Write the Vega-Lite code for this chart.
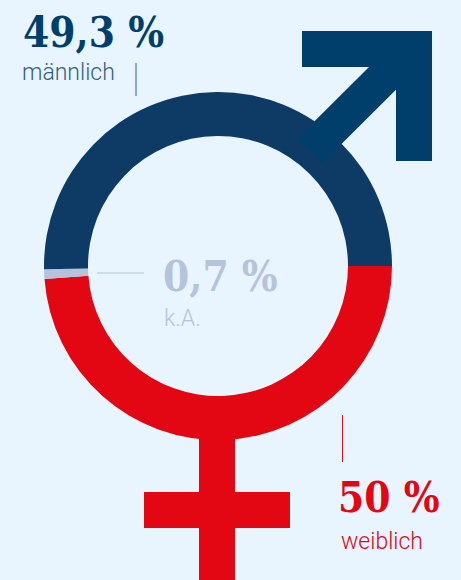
{
"$schema":"https://vega.github.io/schema/vega-lite/v6.json",
"width":461,"height":580,"padding":0,
"autosize":{"type":"fit","contains":"padding"},
"background":"#e8f5fe",
"config":{"view":{"stroke":null}},
"encoding":{
 "color":{"field":"group","type":"nominal","legend":null,"scale":{"domain":["männlich","weiblich","k.A.","pfeil","männlich-text"],"range":["#0d3b66","#e30613","#b5c4da","#003f6b","#2f5f88"]}}
},
"layer":[
 {"data":{"values":[{"group":"weiblich","share":48.8,"rank":1,"cx":218,"cy":266},{"group":"k.A.","share":0.9,"rank":2,"cx":218,"cy":266},{"group":"männlich","share":50.3,"rank":3,"cx":218,"cy":266}]},
  "mark":{"type":"arc","innerRadius":130,"outerRadius":174},
  "encoding":{
   "theta":{"field":"share","type":"quantitative","stack":true,"scale":{"range":[1.5708,7.854]}},
   "order":{"field":"rank","type":"quantitative"},
   "x":{"field":"cx","type":"quantitative","axis":null,"scale":{"domain":[0,461],"nice":false,"zero":false}},
   "y":{"field":"cy","type":"quantitative","axis":null,"scale":{"domain":[580,0],"nice":false,"zero":false}}
  }},
 {"data":{"values":[
   {"group":"weiblich","a":199,"b":235,"c":438,"d":580},
   {"group":"weiblich","a":144,"b":290,"c":492,"d":528},
   {"group":"pfeil","a":302,"b":432,"c":31,"d":67},
   {"group":"pfeil","a":396,"b":432,"c":31,"d":161}
  ]},
  "mark":{"type":"rect"},
  "encoding":{
   "x":{"field":"a","type":"quantitative"},"x2":{"field":"b"},
   "y":{"field":"c","type":"quantitative"},"y2":{"field":"d"}
  }},
 {"data":{"values":[{"group":"pfeil","a":309.5,"b":405,"c":151,"d":56}]},
  "mark":{"type":"rule","strokeWidth":35},
  "encoding":{
   "x":{"field":"a","type":"quantitative"},"x2":{"field":"b"},
   "y":{"field":"c","type":"quantitative"},"y2":{"field":"d"}
  }},
 {"data":{"values":[
   {"group":"männlich-text","a":136,"b":136,"c":63,"d":96},
   {"group":"weiblich","a":342.5,"b":342.5,"c":415,"d":462},
   {"group":"k.A.","a":97,"b":144,"c":273,"d":273}
  ]},
  "mark":{"type":"rule","strokeWidth":1},
  "encoding":{
   "x":{"field":"a","type":"quantitative"},"x2":{"field":"b"},
   "y":{"field":"c","type":"quantitative"},"y2":{"field":"d"}
  }},
 {"data":{"values":[
   {"group":"pfeil","label":"49,3 %","a":23,"c":47},
   {"group":"k.A.","label":"0,7 %","a":163,"c":291},
   {"group":"weiblich","label":"50 %","a":338,"c":512}
  ]},
  "mark":{"type":"text","font":"DejaVu Serif Condensed","fontWeight":"bold","fontSize":42,"align":"left","baseline":"alphabetic"},
  "encoding":{
   "x":{"field":"a","type":"quantitative"},"y":{"field":"c","type":"quantitative"},
   "text":{"field":"label"}
  }},
 {"data":{"values":[
   {"group":"männlich-text","label":"männlich","a":22,"c":80},
   {"group":"k.A.","label":"k.A.","a":164,"c":326},
   {"group":"weiblich","label":"weiblich","a":341,"c":549}
  ]},
  "mark":{"type":"text","font":"Roboto","fontWeight":300,"fontSize":23,"align":"left","baseline":"alphabetic"},
  "encoding":{
   "x":{"field":"a","type":"quantitative"},"y":{"field":"c","type":"quantitative"},
   "text":{"field":"label"}
  }}
]
}
